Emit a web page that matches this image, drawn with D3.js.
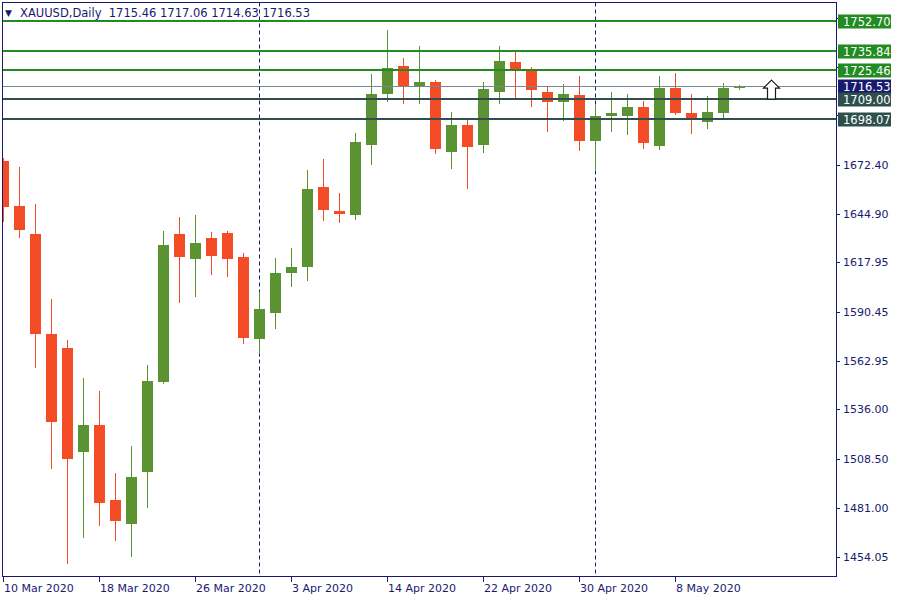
<!DOCTYPE html>
<html>
<head>
<meta charset="utf-8">
<script src="https://cdn.jsdelivr.net/npm/d3@7"></script>
<style>
  html, body { margin: 0; padding: 0; background: #ffffff; }
  svg { display: block; font-family: "DejaVu Sans", Tahoma, sans-serif; }
</style>
</head>
<body>
<svg id="chart" width="900" height="600"></svg>
<script>
// ---------- DATA ----------
const symbolTitle = "XAUUSD,Daily";
const titleValues = ["1715.46", "1717.06", "1714.63", "1716.53"];

const dates = [
  "10 Mar 2020","11 Mar 2020","12 Mar 2020","13 Mar 2020","16 Mar 2020","17 Mar 2020",
  "18 Mar 2020","19 Mar 2020","20 Mar 2020","23 Mar 2020","24 Mar 2020","25 Mar 2020",
  "26 Mar 2020","27 Mar 2020","30 Mar 2020","31 Mar 2020","1 Apr 2020","2 Apr 2020",
  "3 Apr 2020","6 Apr 2020","7 Apr 2020","8 Apr 2020","9 Apr 2020","13 Apr 2020",
  "14 Apr 2020","15 Apr 2020","16 Apr 2020","17 Apr 2020","20 Apr 2020","21 Apr 2020",
  "22 Apr 2020","23 Apr 2020","24 Apr 2020","27 Apr 2020","28 Apr 2020","29 Apr 2020",
  "30 Apr 2020","1 May 2020","4 May 2020","5 May 2020","6 May 2020","7 May 2020",
  "8 May 2020","11 May 2020","12 May 2020","13 May 2020","14 May 2020"
];
const openV  = [1674.5,1649.4,1633.8,1578.1,1570.3,1512.3,1527.3,1485.5,1472.2,1501.1,1551.3,1633.8,
                1619.9,1631.6,1634.4,1621.0,1575.3,1589.8,1612.1,1615.4,1660.0,1646.6,1644.4,1683.4,
                1711.8,1727.5,1716.3,1718.5,1679.5,1694.6,1683.4,1713.0,1729.7,1725.8,1713.0,1707.4,
                1711.3,1685.6,1699.6,1699.6,1704.6,1682.9,1715.2,1701.3,1696.2,1701.3,1715.46];
const highV  = [1676.2,1671.2,1650.5,1597.6,1574.7,1553.5,1546.3,1500.6,1515.6,1560.8,1635.5,1643.3,
                1644.4,1634.9,1635.5,1623.2,1601.5,1620.4,1626.0,1669.5,1675.6,1656.7,1690.1,1723.0,
                1747.5,1731.9,1738.6,1719.6,1701.8,1697.4,1718.5,1738.6,1736.4,1726.9,1715.7,1717.4,
                1721.9,1705.7,1713.0,1711.8,1707.9,1721.9,1723.5,1711.8,1710.7,1718.0,1717.06];
const lowV   = [1641.2,1632.1,1559.7,1503.5,1450.6,1464.9,1471.6,1463.2,1454.3,1481.6,1551.0,1595.9,
                1599.2,1611.5,1610.4,1573.1,1567.5,1581.4,1604.8,1608.2,1641.6,1640.5,1642.2,1672.8,
                1707.9,1706.8,1706.8,1679.0,1670.6,1659.4,1679.5,1706.8,1709.6,1705.2,1691.2,1697.4,
                1680.6,1670.0,1691.2,1689.5,1681.7,1681.2,1700.7,1690.1,1692.9,1698.5,1714.63];
const closeV = [1649.0,1636.0,1578.1,1529.2,1508.6,1527.3,1483.9,1473.8,1498.4,1551.9,1627.7,1621.0,
                1628.8,1621.5,1619.9,1575.8,1592.0,1612.1,1615.4,1658.9,1647.2,1645.1,1685.1,1711.8,
                1726.3,1715.7,1718.5,1681.2,1694.6,1682.3,1714.6,1730.2,1725.8,1714.1,1707.4,1711.8,
                1685.6,1699.6,1701.3,1704.6,1684.5,1715.2,1701.3,1697.4,1701.8,1715.2,1716.53];

const dateTickLabels = ["10 Mar 2020","18 Mar 2020","26 Mar 2020","3 Apr 2020",
                        "14 Apr 2020","22 Apr 2020","30 Apr 2020","8 May 2020"];
const separatorDates = ["1 Apr 2020","1 May 2020"];
// price ticks; the last three sit under the level labels, so only their tick marks show
const priceTicks = [1454.05,1481.00,1508.50,1536.00,1562.95,1590.45,1617.95,1644.90,
                    1672.40,1699.90,1726.85,1754.35];
const hiddenPriceTickLabels = [1699.90,1726.85,1754.35];

const levelPrices = [1752.70, 1735.84, 1725.46, 1709.00, 1698.07];
const levelKinds  = ["resist","resist","resist","support","support"];
const bidPrice = 1716.53;
const arrowIndex = 48;
const arrowPrice = 1709.00;

// ---------- LAYOUT ----------
const svg = d3.select("#chart");
const plot = {left: 2, right: 836, top: 2.5, bottom: 576.5};
const navy = "#191970";
const bullColor = "#5b9232", bearColor = "#f34c26";
const levelColor = {resist: "#228b22", support: "#2f4f4f"};

const x = d3.scaleLinear().domain([0, 52]).range([3.5, 835.5]);
const y = d3.scaleLinear().domain([1454.05, 1752.70]).range([556.5, 20.7]);

svg.append("rect").attr("width", 900).attr("height", 600).attr("fill", "#fff");

svg.append("defs").append("clipPath").attr("id", "clip")
  .append("rect").attr("x", plot.left).attr("y", plot.top)
  .attr("width", plot.right - plot.left).attr("height", plot.bottom - plot.top);

const g = svg.append("g").attr("clip-path", "url(#clip)");

// period separators
separatorDates.forEach(d => {
  const i = dates.indexOf(d);
  g.append("line").attr("x1", x(i)).attr("x2", x(i))
    .attr("y1", plot.top).attr("y2", plot.bottom)
    .attr("stroke", navy).attr("stroke-width", 1).attr("stroke-dasharray", "4,3");
});

// candles
const candles = dates.map((d, i) => ({i, o: openV[i], h: highV[i], l: lowV[i], c: closeV[i]}));
const cg = g.append("g").attr("shape-rendering", "crispEdges");
cg.selectAll("line.wick").data(candles).enter().append("line")
  .attr("x1", d => x(d.i)).attr("x2", d => x(d.i))
  .attr("y1", d => Math.round(y(d.h))).attr("y2", d => Math.round(y(d.l)) + 1)
  .attr("stroke", d => d.c >= d.o ? bullColor : bearColor).attr("stroke-width", 1);
cg.selectAll("rect.body").data(candles).enter().append("rect")
  .attr("x", d => x(d.i) - 5.5).attr("width", 11)
  .attr("y", d => Math.round(y(Math.max(d.o, d.c))))
  .attr("height", d => Math.max(2, Math.round(y(Math.min(d.o, d.c))) - Math.round(y(Math.max(d.o, d.c)))))
  .attr("fill", d => d.c >= d.o ? bullColor : bearColor);

// bid line
g.append("line").attr("x1", plot.left).attr("x2", plot.right)
  .attr("y1", Math.round(y(bidPrice)) + 0.5).attr("y2", Math.round(y(bidPrice)) + 0.5)
  .attr("stroke", "#778899").attr("stroke-width", 1);

// horizontal levels
levelPrices.forEach((p, k) => {
  g.append("line").attr("x1", plot.left).attr("x2", plot.right)
    .attr("y1", Math.round(y(p))).attr("y2", Math.round(y(p)))
    .attr("stroke", levelColor[levelKinds[k]]).attr("stroke-width", 2)
    .attr("shape-rendering", "crispEdges");
});

// arrow object
const ax = x(arrowIndex), ay = y(arrowPrice);
g.append("path")
  .attr("d", `M${ax},${ay-19} L${ax+8},${ay-11} L${ax+4},${ay-11} L${ax+4},${ay} L${ax-4},${ay} L${ax-4},${ay-11} L${ax-8},${ay-11} Z`)
  .attr("fill", "#ffffff").attr("stroke", "#1a1a1a").attr("stroke-width", 1.2);

// frame
svg.append("rect").attr("x", plot.left).attr("y", plot.top)
  .attr("width", plot.right - plot.left).attr("height", plot.bottom - plot.top)
  .attr("fill", "none").attr("stroke", navy).attr("stroke-width", 1)
  .attr("shape-rendering", "crispEdges");

// right price axis
const ra = svg.append("g");
priceTicks.forEach(p => {
  const yy = Math.round(y(p)) + 0.5;
  ra.append("line").attr("x1", plot.right).attr("x2", plot.right + 4)
    .attr("y1", yy).attr("y2", yy).attr("stroke", navy).attr("shape-rendering", "crispEdges");
  if (!hiddenPriceTickLabels.includes(p)) {
    ra.append("text").attr("x", 843).attr("y", yy).attr("dy", "0.36em")
      .attr("font-size", 11).attr("fill", navy).text(p.toFixed(2));
  }
});

// price labels on axis
function axisLabel(p, fill) {
  const yy = y(p);
  ra.append("rect").attr("x", 838).attr("y", Math.round(yy) - 6.5).attr("width", 53).attr("height", 14)
    .attr("fill", fill);
  ra.append("text").attr("x", 843).attr("y", Math.round(yy) + 0.5).attr("dy", "0.36em")
    .attr("font-size", 11.5).attr("fill", "#ffffff").text(p.toFixed(2));
}
levelPrices.forEach((p, k) => { if (levelKinds[k] === "resist") axisLabel(p, levelColor.resist); });
axisLabel(bidPrice, navy);
levelPrices.forEach((p, k) => { if (levelKinds[k] === "support") axisLabel(p, levelColor.support); });

// bottom date axis
const ba = svg.append("g");
dateTickLabels.forEach(lbl => {
  const i = dates.indexOf(lbl);
  const xx = Math.max(plot.left + 0.5, x(i) - 0.5);
  ba.append("line").attr("x1", xx).attr("x2", xx).attr("y1", plot.bottom).attr("y2", plot.bottom + 5)
    .attr("stroke", navy).attr("shape-rendering", "crispEdges");
  ba.append("text").attr("x", xx + 1).attr("y", 592).attr("font-size", 11)
    .attr("fill", navy).text(lbl);
});

// title
svg.append("text").attr("x", 5).attr("y", 16).attr("font-size", 9).attr("fill", navy).text("▼");
svg.append("text").attr("x", 20).attr("y", 17).attr("font-size", 11.5).attr("fill", navy)
  .attr("xml:space", "preserve")
  .text(symbolTitle + "  " + titleValues.join(" "));
</script>
</body>
</html>
